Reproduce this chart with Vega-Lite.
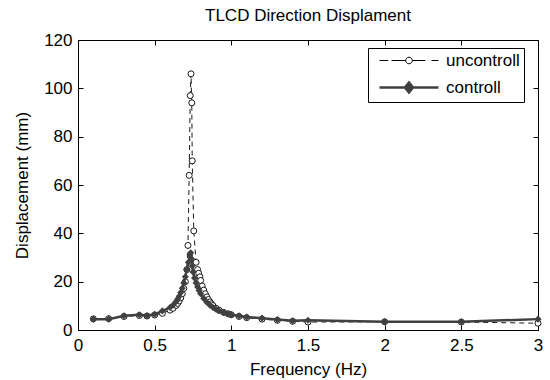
{
  "$schema": "https://vega.github.io/schema/vega-lite/v6.json",
  "autosize": {"type": "none"},
  "padding": {"left": 78, "top": 40, "right": 12, "bottom": 50},
  "width": 460,
  "height": 290,
  "background": "white",
  "title": {"text": "TLCD Direction Displament", "font": "Liberation Sans", "fontSize": 17, "fontWeight": "normal", "color": "black", "offset": 6},
  "config": {
    "view": {"stroke": "black", "strokeWidth": 1},
    "axis": {"labelFont": "Liberation Sans", "labelFontSize": 17, "labelColor": "black", "titleFont": "Liberation Sans", "titleFontSize": 17, "titleFontWeight": "normal", "titleColor": "black", "grid": false, "domain": false, "tickColor": "black", "tickSize": -5, "format": ".2~f", "labelFlush": false, "labelOverlap": false}
  },
  "data": {"values": [
    {"f": 0.1, "d": 4.6, "s": "uncontroll"},
    {"f": 0.2, "d": 4.7, "s": "uncontroll"},
    {"f": 0.3, "d": 5.6, "s": "uncontroll"},
    {"f": 0.4, "d": 6.0, "s": "uncontroll"},
    {"f": 0.45, "d": 5.8, "s": "uncontroll"},
    {"f": 0.5, "d": 6.2, "s": "uncontroll"},
    {"f": 0.55, "d": 6.9, "s": "uncontroll"},
    {"f": 0.6, "d": 8.2, "s": "uncontroll"},
    {"f": 0.62, "d": 9.0, "s": "uncontroll"},
    {"f": 0.64, "d": 10.2, "s": "uncontroll"},
    {"f": 0.65, "d": 11.0, "s": "uncontroll"},
    {"f": 0.66, "d": 12.0, "s": "uncontroll"},
    {"f": 0.67, "d": 13.3, "s": "uncontroll"},
    {"f": 0.68, "d": 15.0, "s": "uncontroll"},
    {"f": 0.69, "d": 17.2, "s": "uncontroll"},
    {"f": 0.7, "d": 20.0, "s": "uncontroll"},
    {"f": 0.71, "d": 25.0, "s": "uncontroll"},
    {"f": 0.717, "d": 35, "s": "uncontroll"},
    {"f": 0.725, "d": 64, "s": "uncontroll"},
    {"f": 0.732, "d": 97, "s": "uncontroll"},
    {"f": 0.737, "d": 106, "s": "uncontroll"},
    {"f": 0.742, "d": 94, "s": "uncontroll"},
    {"f": 0.745, "d": 70, "s": "uncontroll"},
    {"f": 0.755, "d": 41, "s": "uncontroll"},
    {"f": 0.77, "d": 28, "s": "uncontroll"},
    {"f": 0.78, "d": 25, "s": "uncontroll"},
    {"f": 0.787, "d": 23.5, "s": "uncontroll"},
    {"f": 0.795, "d": 22, "s": "uncontroll"},
    {"f": 0.8, "d": 20.5, "s": "uncontroll"},
    {"f": 0.81, "d": 18.2, "s": "uncontroll"},
    {"f": 0.82, "d": 16.5, "s": "uncontroll"},
    {"f": 0.83, "d": 15.0, "s": "uncontroll"},
    {"f": 0.84, "d": 13.7, "s": "uncontroll"},
    {"f": 0.85, "d": 12.6, "s": "uncontroll"},
    {"f": 0.86, "d": 11.6, "s": "uncontroll"},
    {"f": 0.87, "d": 10.8, "s": "uncontroll"},
    {"f": 0.88, "d": 10.1, "s": "uncontroll"},
    {"f": 0.9, "d": 9.0, "s": "uncontroll"},
    {"f": 0.92, "d": 8.2, "s": "uncontroll"},
    {"f": 0.95, "d": 7.3, "s": "uncontroll"},
    {"f": 0.98, "d": 6.7, "s": "uncontroll"},
    {"f": 1.0, "d": 6.3, "s": "uncontroll"},
    {"f": 1.05, "d": 5.6, "s": "uncontroll"},
    {"f": 1.1, "d": 5.1, "s": "uncontroll"},
    {"f": 1.2, "d": 4.5, "s": "uncontroll"},
    {"f": 1.3, "d": 4.0, "s": "uncontroll"},
    {"f": 1.4, "d": 3.6, "s": "uncontroll"},
    {"f": 1.5, "d": 3.3, "s": "uncontroll"},
    {"f": 2.0, "d": 3.4, "s": "uncontroll"},
    {"f": 2.5, "d": 3.3, "s": "uncontroll"},
    {"f": 3.0, "d": 2.8, "s": "uncontroll"},
    {"f": 0.1, "d": 4.5, "s": "controll"},
    {"f": 0.2, "d": 4.5, "s": "controll"},
    {"f": 0.3, "d": 5.9, "s": "controll"},
    {"f": 0.4, "d": 6.3, "s": "controll"},
    {"f": 0.45, "d": 5.9, "s": "controll"},
    {"f": 0.5, "d": 6.5, "s": "controll"},
    {"f": 0.55, "d": 7.9, "s": "controll"},
    {"f": 0.6, "d": 9.3, "s": "controll"},
    {"f": 0.62, "d": 10.3, "s": "controll"},
    {"f": 0.64, "d": 11.8, "s": "controll"},
    {"f": 0.65, "d": 12.8, "s": "controll"},
    {"f": 0.66, "d": 14.0, "s": "controll"},
    {"f": 0.67, "d": 15.5, "s": "controll"},
    {"f": 0.68, "d": 17.3, "s": "controll"},
    {"f": 0.69, "d": 19.5, "s": "controll"},
    {"f": 0.7, "d": 22.0, "s": "controll"},
    {"f": 0.71, "d": 25.0, "s": "controll"},
    {"f": 0.72, "d": 28.0, "s": "controll"},
    {"f": 0.73, "d": 31.0, "s": "controll"},
    {"f": 0.735, "d": 32.0, "s": "controll"},
    {"f": 0.74, "d": 29.5, "s": "controll"},
    {"f": 0.745, "d": 26.5, "s": "controll"},
    {"f": 0.75, "d": 24.0, "s": "controll"},
    {"f": 0.76, "d": 21.5, "s": "controll"},
    {"f": 0.77, "d": 19.5, "s": "controll"},
    {"f": 0.78, "d": 17.8, "s": "controll"},
    {"f": 0.79, "d": 16.3, "s": "controll"},
    {"f": 0.8, "d": 15.0, "s": "controll"},
    {"f": 0.82, "d": 13.0, "s": "controll"},
    {"f": 0.84, "d": 11.5, "s": "controll"},
    {"f": 0.86, "d": 10.3, "s": "controll"},
    {"f": 0.88, "d": 9.3, "s": "controll"},
    {"f": 0.9, "d": 8.6, "s": "controll"},
    {"f": 0.92, "d": 7.9, "s": "controll"},
    {"f": 0.95, "d": 7.2, "s": "controll"},
    {"f": 0.98, "d": 6.6, "s": "controll"},
    {"f": 1.0, "d": 6.3, "s": "controll"},
    {"f": 1.05, "d": 5.9, "s": "controll"},
    {"f": 1.1, "d": 5.4, "s": "controll"},
    {"f": 1.2, "d": 4.9, "s": "controll"},
    {"f": 1.3, "d": 4.3, "s": "controll"},
    {"f": 1.4, "d": 3.8, "s": "controll"},
    {"f": 1.5, "d": 4.0, "s": "controll"},
    {"f": 2.0, "d": 3.4, "s": "controll"},
    {"f": 2.5, "d": 3.4, "s": "controll"},
    {"f": 3.0, "d": 4.5, "s": "controll"}
  ]},
  "resolve": {"axis": {"x": "independent", "y": "independent"}},
  "layer": [
    {
      "transform": [{"filter": "datum.s === 'uncontroll'"}],
      "mark": {"type": "line", "strokeWidth": 0.9, "strokeDash": [5, 4], "color": "black"},
      "encoding": {
        "x": {"field": "f", "type": "quantitative", "scale": {"domain": [0, 3], "nice": false, "zero": false, "padding": 0},
              "axis": {"orient": "bottom", "values": [0, 0.5, 1, 1.5, 2, 2.5, 3], "title": "Frequency (Hz)", "labelPadding": 12, "titlePadding": 8}},
        "y": {"field": "d", "type": "quantitative", "scale": {"domain": [0, 120], "nice": false, "zero": false, "padding": 0},
              "axis": {"orient": "left", "values": [0, 20, 40, 60, 80, 100, 120], "title": "Displacement (mm)", "labelPadding": 11, "titlePadding": 12}},
        "color": {"field": "s", "type": "nominal",
                  "scale": {"domain": ["uncontroll", "controll"], "range": ["black", "#404040"]},
                  "legend": {"orient": "none", "legendX": 290, "legendY": 8, "title": null,
                             "strokeColor": "black", "fillColor": "white", "padding": 4, "cornerRadius": 0,
                             "labelFont": "Liberation Sans", "labelFontSize": 17, "labelColor": "black", "labelOffset": 57,
                             "symbolSize": 3481, "rowPadding": 8,
                             "encode": {"symbols": {"update": {
                               "shape": {"signal": "datum.value === 'controll' ? 'M-0.034,0H1.966M0.966,-0.17L1.102,0L0.966,0.17L0.83,0Z' : 'M-0.034,0H0.261M0.373,0H0.854M1.078,0A0.112,0.112 0 1,1 0.854,0A0.112,0.112 0 1,1 1.078,0M1.078,0H1.525M1.729,0H1.966'"},
                               "fill": {"signal": "datum.value === 'controll' ? '#404040' : 'white'"},
                               "stroke": {"signal": "datum.value === 'controll' ? '#404040' : 'black'"},
                               "strokeWidth": {"signal": "datum.value === 'controll' ? 2.5 : 1"},
                               "strokeDash": {"value": []},
                               "opacity": {"value": 1}
                             }}}}}
      }
    },
    {
      "transform": [{"filter": "datum.s === 'uncontroll'"}],
      "mark": {"type": "point", "shape": "circle", "size": 36, "filled": true, "fill": "white", "stroke": "black", "strokeWidth": 0.9, "opacity": 1},
      "encoding": {
        "x": {"field": "f", "type": "quantitative", "scale": {"domain": [0, 3], "nice": false, "zero": false, "padding": 0},
              "axis": {"orient": "top", "values": [0, 0.5, 1, 1.5, 2, 2.5, 3], "labels": false, "title": null}},
        "y": {"field": "d", "type": "quantitative", "scale": {"domain": [0, 120], "nice": false, "zero": false, "padding": 0},
              "axis": {"orient": "right", "values": [0, 20, 40, 60, 80, 100, 120], "labels": false, "title": null}}
      }
    },
    {
      "transform": [{"filter": "datum.s === 'controll'"}],
      "mark": {"type": "line", "strokeWidth": 2.5, "color": "#404040"},
      "encoding": {
        "x": {"field": "f", "type": "quantitative", "scale": {"domain": [0, 3], "nice": false, "zero": false, "padding": 0}, "axis": null},
        "y": {"field": "d", "type": "quantitative", "scale": {"domain": [0, 120], "nice": false, "zero": false, "padding": 0}, "axis": null}
      }
    },
    {
      "transform": [{"filter": "datum.s === 'controll'"}],
      "mark": {"type": "point", "shape": "diamond", "size": 50, "filled": true, "color": "#404040", "opacity": 1},
      "encoding": {
        "x": {"field": "f", "type": "quantitative", "scale": {"domain": [0, 3], "nice": false, "zero": false, "padding": 0}, "axis": null},
        "y": {"field": "d", "type": "quantitative", "scale": {"domain": [0, 120], "nice": false, "zero": false, "padding": 0}, "axis": null}
      }
    }
  ]
}
